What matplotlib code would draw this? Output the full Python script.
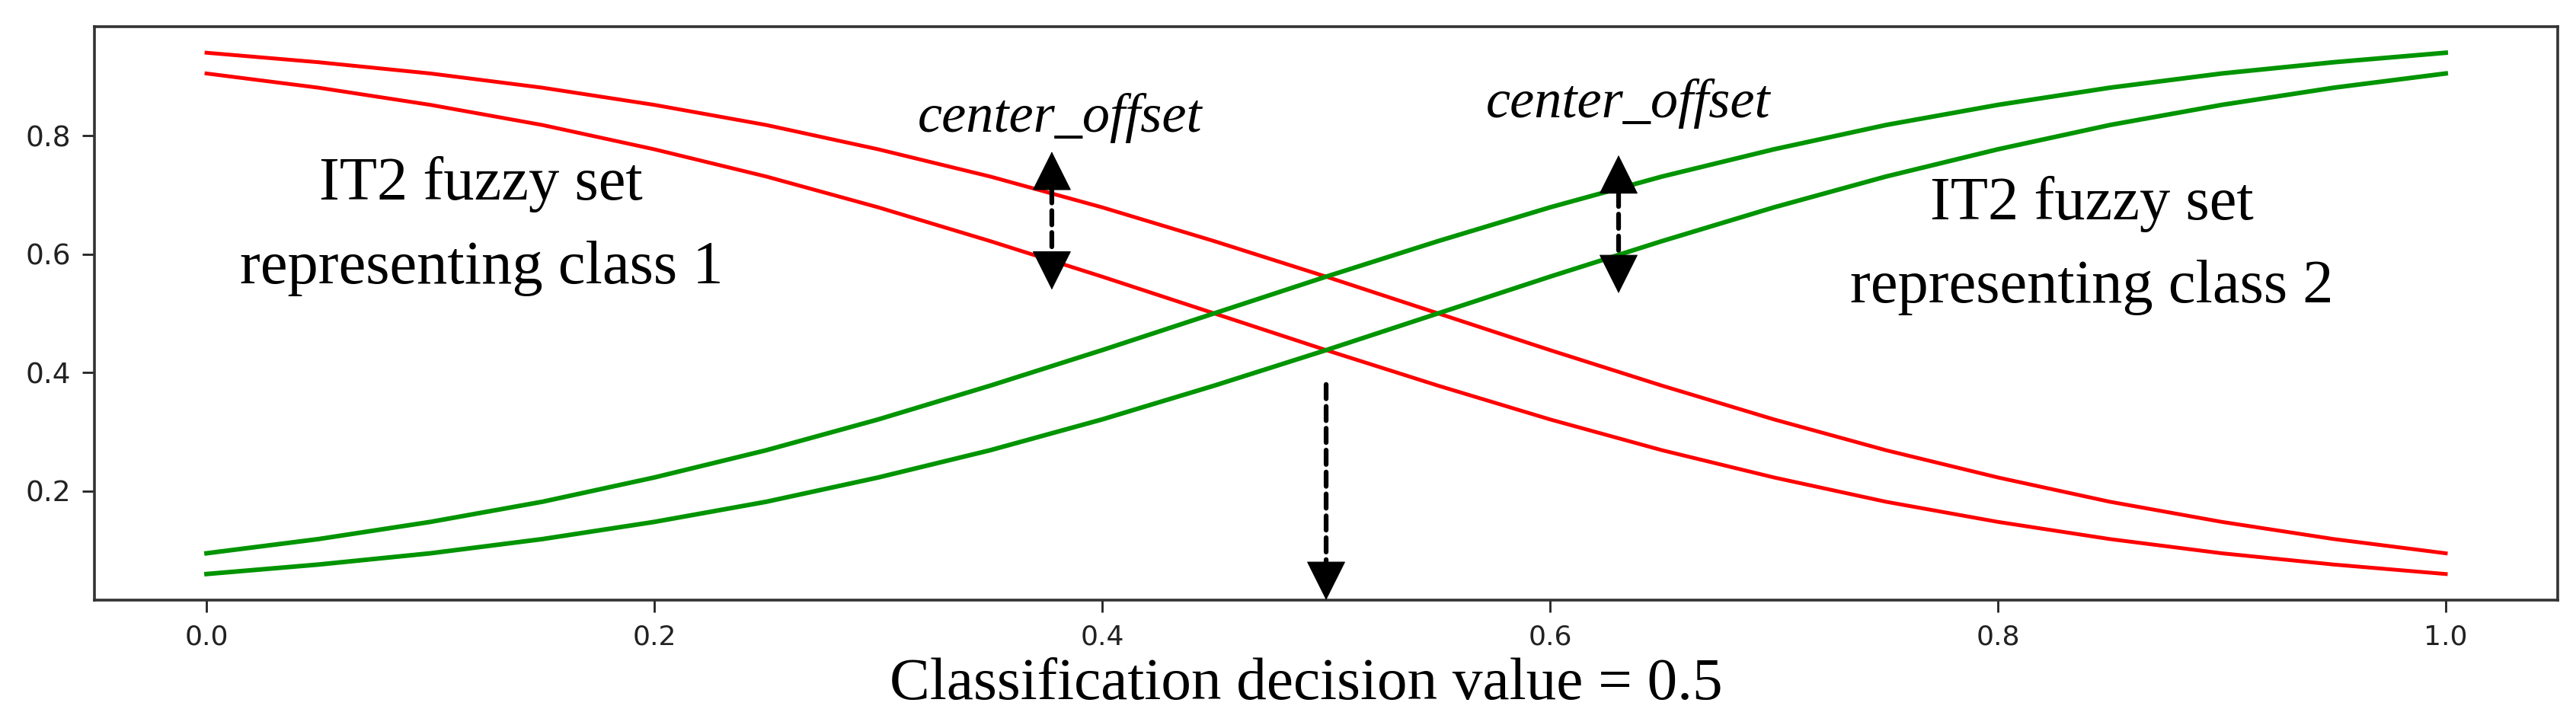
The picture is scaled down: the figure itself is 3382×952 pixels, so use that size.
import matplotlib.pyplot as plt

x_vals = [0.00, 0.05, 0.10, 0.15, 0.20, 0.25, 0.30, 0.35, 0.40, 0.45, 0.50,
          0.55, 0.60, 0.65, 0.70, 0.75, 0.80, 0.85, 0.90, 0.95, 1.00]
red_upper = [0.940, 0.924, 0.905, 0.881, 0.852, 0.818, 0.777, 0.731, 0.679, 0.622, 0.562,
             0.500, 0.438, 0.378, 0.321, 0.269, 0.223, 0.182, 0.148, 0.119, 0.095]
red_lower = [0.905, 0.881, 0.852, 0.818, 0.777, 0.731, 0.679, 0.622, 0.562, 0.500, 0.438,
             0.378, 0.321, 0.269, 0.223, 0.182, 0.148, 0.119, 0.095, 0.076, 0.060]
green_upper = [0.095, 0.119, 0.148, 0.182, 0.223, 0.269, 0.321, 0.378, 0.438, 0.500, 0.562,
               0.622, 0.679, 0.731, 0.777, 0.818, 0.852, 0.881, 0.905, 0.924, 0.940]
green_lower = [0.060, 0.076, 0.095, 0.119, 0.148, 0.182, 0.223, 0.269, 0.321, 0.378, 0.438,
               0.500, 0.562, 0.622, 0.679, 0.731, 0.777, 0.818, 0.852, 0.881, 0.905]

x_ticks = [0.0, 0.2, 0.4, 0.6, 0.8, 1.0]
y_ticks = [0.2, 0.4, 0.6, 0.8]

serif = 'Liberation Serif'
HEAD = 35.0  # arrow head length in points
DASH = (0, (3, 1.6))


def arrow_head(ax, tip, direction, coords='data'):
    # solid filled triangle whose point sits on tip; direction +1 points up, -1 down
    ax.annotate('', xy=tip, xycoords=coords, xytext=(0, -direction * HEAD),
                textcoords='offset points',
                arrowprops=dict(arrowstyle='-|>,head_length=0.4,head_width=0.2',
                                mutation_scale=HEAD / 0.4, shrinkA=0, shrinkB=0,
                                lw=0.8, facecolor='black', edgecolor='black'))


def dashed_shaft(ax, start, end, shrink_start, shrink_end, coords='data'):
    ax.annotate('', xy=end, xycoords=coords, xytext=start, textcoords='data',
                arrowprops=dict(arrowstyle='-', lw=4.5, linestyle=DASH, color='black',
                                shrinkA=shrink_start, shrinkB=shrink_end))


fig = plt.figure(figsize=(33.82, 9.52), dpi=100)
ax = fig.add_axes([0.0367, 0.1723, 0.9562, 0.7909])

ax.plot(x_vals, red_upper, color='#ff0000', lw=3.6)
ax.plot(x_vals, red_lower, color='#ff0000', lw=3.6)
ax.plot(x_vals, green_upper, color='#009400', lw=4.3)
ax.plot(x_vals, green_lower, color='#009400', lw=4.3)

ax.set_xticks(x_ticks)
ax.set_yticks(y_ticks)
ax.tick_params(axis='x', labelsize=26, length=11.5, width=2, pad=11, colors='#222222')
ax.tick_params(axis='y', labelsize=27, length=11.5, width=2, pad=11, colors='#222222')
for side in ax.spines:
    ax.spines[side].set_linewidth(2.6)
    ax.spines[side].set_color('#333333')

# class labels
ax.text(0.1227, 0.6925, 'IT2 fuzzy set', family=serif, fontsize=58, ha='center', va='baseline')
ax.text(0.1227, 0.5505, 'representing class 1', family=serif, fontsize=58, ha='center', va='baseline')
ax.text(0.842, 0.659, 'IT2 fuzzy set', family=serif, fontsize=58, ha='center', va='baseline')
ax.text(0.842, 0.519, 'representing class 2', family=serif, fontsize=58, ha='center', va='baseline')

# center offset markers
ax.text(0.381, 0.806, 'center_offset', family=serif, style='italic', fontsize=52,
        ha='center', va='baseline')
ax.text(0.635, 0.831, 'center_offset', family=serif, style='italic', fontsize=52,
        ha='center', va='baseline')

for xa, y_top, y_bot in [(0.3775, 0.773, 0.540), (0.6306, 0.767, 0.534)]:
    dashed_shaft(ax, (xa, y_top), (xa, y_bot), HEAD, HEAD)
    arrow_head(ax, (xa, y_top), +1)
    arrow_head(ax, (xa, y_bot), -1)

# decision value arrow down to the axis
tip = (0.5, 0.0)
tip_coords = ('data', 'axes fraction')
dashed_shaft(ax, (0.5, 0.38), tip, 0, HEAD, coords=tip_coords)
arrow_head(ax, tip, -1, coords=tip_coords)

fig.text(0.507, 0.0357, 'Classification decision value = 0.5', family=serif,
         fontsize=57, ha='center', va='baseline')

fig.savefig('out.png', dpi=100)
